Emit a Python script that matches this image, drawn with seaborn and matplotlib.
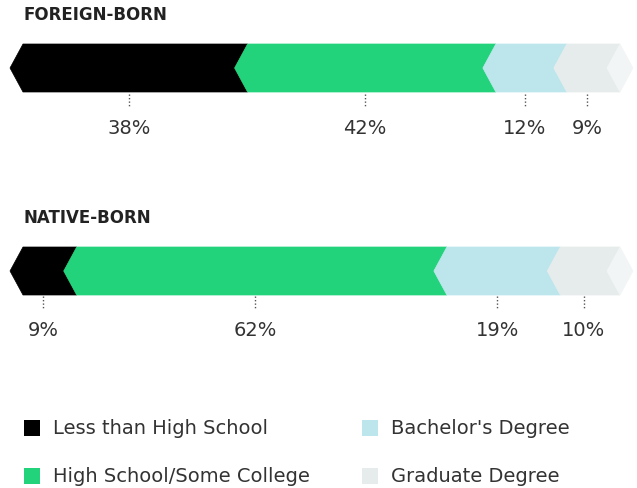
import matplotlib
matplotlib.use("Agg")
import matplotlib.pyplot as plt
from matplotlib.patches import Polygon, Rectangle
import seaborn as sns

# ---- data ----
groups = ["FOREIGN-BORN", "NATIVE-BORN"]
categories = ["Less than High School", "High School/Some College",
              "Bachelor's Degree", "Graduate Degree"]
foreign_born = [38, 42, 12, 9]
native_born = [9, 62, 19, 10]
colors = ["#000000", "#22d37b", "#bce6ec", "#e6ecec"]
tail_color = "#f2f5f6"

sns.set_theme(style="white")
plt.rcParams["font.family"] = ["DejaVu Sans"]

W, H = 637, 489
fig = plt.figure(figsize=(W / 100, H / 100), dpi=100)
ax = fig.add_axes([0, 0, 1, 1])

# x in percent: 0% at px 23, 100% at px 620
x0_px, x1_px = 23, 620
k = (x1_px - x0_px) / 100.0
ax.set_xlim(-x0_px / k, (W - x0_px) / k)
ax.set_ylim(H, 0)
ax.axis("off")

depth = 13 / k
half_h = 24
row_y = [69, 272]
tick_top = [95, 297]
label_y = [128, 330]
title_y = [15, 218]

for gi, (g, vals) in enumerate(zip(groups, [foreign_born, native_born])):
    yc = row_y[gi]
    top, bot = yc - half_h, yc + half_h
    total = float(sum(vals))
    left = 0.0
    for v, c in zip(vals, colors):
        w = v / total * 100
        a, b = left, left + w
        pts = [(a, top), (b, top), (b - depth, yc), (b, bot), (a, bot), (a - depth, yc)]
        ax.add_patch(Polygon(pts, closed=True, facecolor=c, edgecolor=c, lw=0.5))
        cx = (a + b) / 2 - depth / 2
        ax.plot([cx, cx], [tick_top[gi], tick_top[gi] + 12], ls=(0, (1, 1.5)),
                color="#555555", lw=1.0)
        ax.text(cx, label_y[gi], f"{v}%", ha="center", va="center",
                fontsize=14, color="#333333")
        left = b
    # pale tail chevron
    b = left
    pts = [(b, top), (b + depth, yc), (b, bot), (b - depth, yc)]
    ax.add_patch(Polygon(pts, closed=True, facecolor=tail_color, edgecolor=tail_color, lw=0.5))
    fig.text(24 / W, 1 - title_y[gi] / H, g, ha="left", va="center",
             fontsize=12, fontweight="bold", color="#222222")

# legend
leg_pos = [(24, 429), (24, 477), (362, 429), (362, 477)]
for (lx, ly), cat, c in zip(leg_pos, categories, colors):
    fig.patches.append(Rectangle((lx / W, 1 - (ly + 8) / H), 16 / W, 16 / H,
                                 transform=fig.transFigure, facecolor=c,
                                 edgecolor="none"))
    fig.text((lx + 29) / W, 1 - ly / H, cat, ha="left", va="center",
             fontsize=14, color="#333333")

fig.savefig("out.png", dpi=100)
